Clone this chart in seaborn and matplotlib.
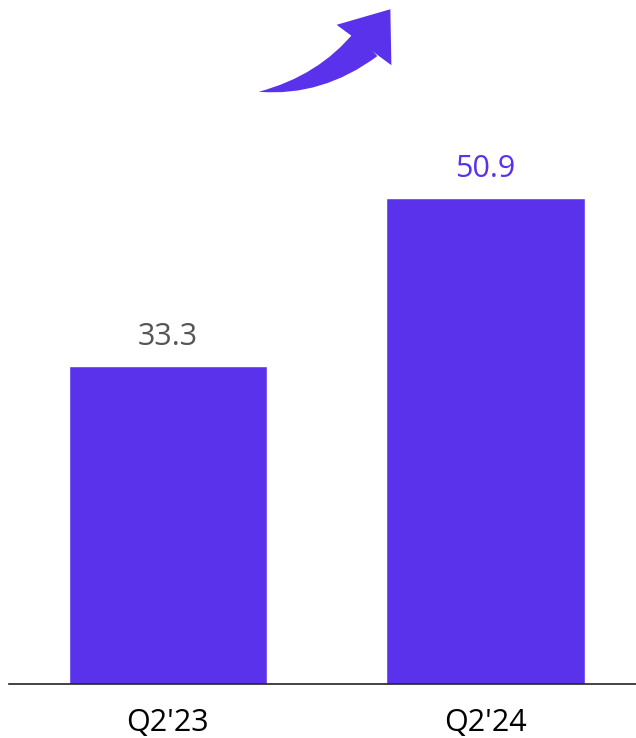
import matplotlib.pyplot as plt
import pandas as pd
import seaborn as sns
from matplotlib.patches import FancyArrowPatch

# data
quarters = ["Q2'23", "Q2'24"]
values = [33.3, 50.9]
label_colors = ["#555555", "#5A32EC"]

bar_color = "#5A32EC"

sns.set_theme(style="white")
plt.rcParams["font.family"] = ["Open Sans", "DejaVu Sans"]

df = pd.DataFrame({"quarter": quarters, "value": values})

fig = plt.figure(figsize=(6.36, 7.38), dpi=100)
ax = fig.add_axes([9 / 636, 54 / 738, 627 / 636, 684 / 738])

sns.barplot(data=df, x="quarter", y="value", color=bar_color, saturation=1,
            width=0.624, ax=ax)

ax.set_xlim(-0.5, 1.474)
ax.set_ylim(0, 71.6)

for bar, v, c in zip(ax.patches, values, label_colors):
    ax.annotate(f"{v:.1f}", (bar.get_x() + bar.get_width() / 2, bar.get_height()),
                xytext=(0, 10), textcoords="offset points",
                ha="center", va="bottom", fontsize=22, color=c)

ax.set_xlabel("")
ax.set_ylabel("")
ax.set_yticks([])
ax.tick_params(axis="x", labelsize=22, colors="black", length=0, pad=17)
for s in ["top", "right", "left"]:
    ax.spines[s].set_visible(False)
ax.spines["bottom"].set_color("#222222")
ax.spines["bottom"].set_linewidth(1.2)


def fig_xy(px, py):
    return px / 636, 1 - py / 738


# decorative growth arrow: tapered body + triangular head
body = FancyArrowPatch(fig_xy(368, 42), fig_xy(256, 92),
                       transform=fig.transFigure,
                       connectionstyle="arc3,rad=-0.18",
                       arrowstyle="wedge,tail_width=2.4,shrink_factor=0.55",
                       mutation_scale=10, color=bar_color, lw=0)
head = FancyArrowPatch(fig_xy(364, 45), fig_xy(392, 7),
                       transform=fig.transFigure,
                       arrowstyle="simple,head_length=3.2,head_width=4.9,tail_width=0.1",
                       mutation_scale=10, color=bar_color, lw=0)
fig.patches.append(body)
fig.patches.append(head)

fig.savefig("out.png", dpi=100)
